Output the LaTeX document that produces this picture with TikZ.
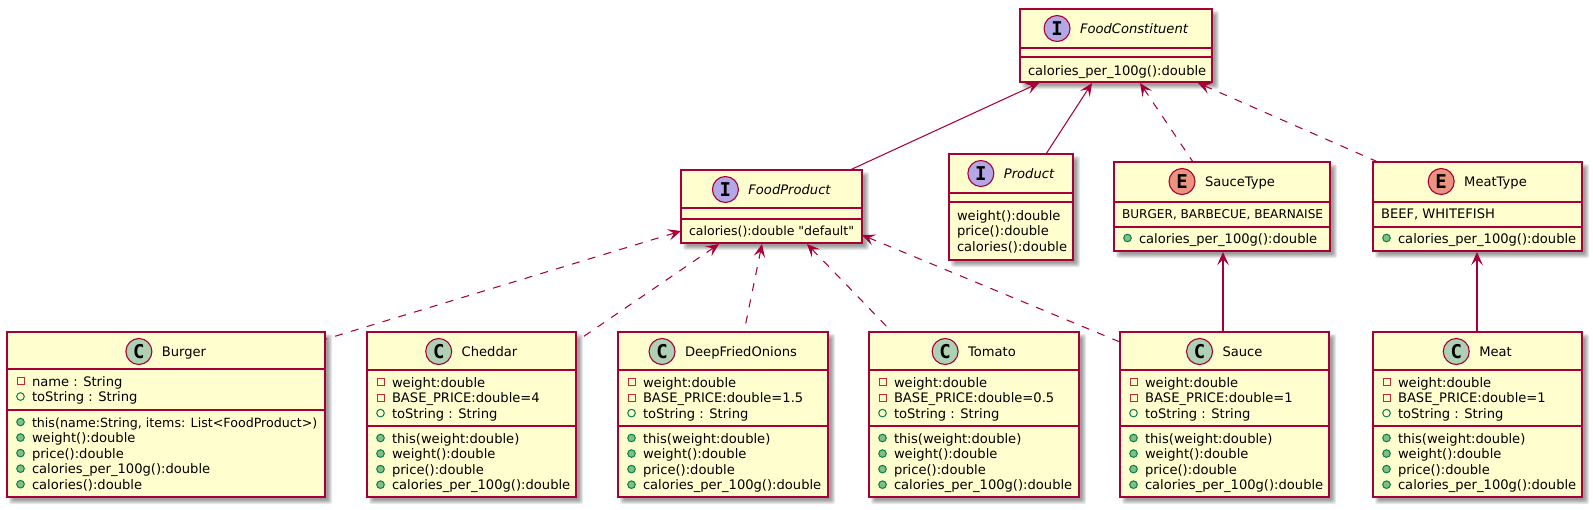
\documentclass[tikz,border=0pt]{standalone}
\usepackage{fontspec}
\newfontfamily\umlfont{DejaVu Sans}
\newfontfamily\spotfont{DejaVu Sans Mono}
\usetikzlibrary{arrows.meta,calc}
\definecolor{umlline}{HTML}{A80036}
\definecolor{umlfill}{HTML}{FEFECE}
\definecolor{spotc}{HTML}{ADD1B2}
\definecolor{spoti}{HTML}{B4A7E5}
\definecolor{spote}{HTML}{EB937F}
\definecolor{privred}{HTML}{C82930}
\definecolor{pubgreen}{HTML}{038048}
\definecolor{pubfill}{HTML}{84BE84}
\def\lettc{C}\def\letti{I}\def\lette{E}
\def\tfc{}\def\tfi{\itshape}\def\tfe{}
\newcommand\narrowtext[2]{{\fontsize{#1}{15}\selectfont #2}}
\tikzset{
  umlbox/.style={draw=umlline,fill=umlfill,line width=1.25pt,rectangle,inner sep=0pt,outer sep=0pt,anchor=north west},
  umlrule/.style={draw=umlline,line width=1.1pt},
  spotnode/.style={circle,draw=umlline,line width=1.1pt,minimum size=26pt,inner sep=0pt,font=\spotfont\bfseries\fontsize{19}{19}\selectfont},
  txt/.style={anchor=base west,inner sep=0pt,outer sep=0pt,font=\umlfont\fontsize{13.1}{15}\selectfont,text=black},
  assoc/.style={draw=umlline,line width=1.05pt,{Stealth[length=13pt,width=11.5pt,inset=5.5pt]}-},
  dep/.style={assoc,dash pattern=on 8pt off 8.5pt},
}
% icon + text rows: #1 prefix, #2 x of box left, #3 first baseline, #4 list of kind/text
\newcommand\umlrows[4]{%
  \foreach \k/\t [count=\i from 0] in {#4}{%
    \pgfmathsetmacro\yy{#3+15.55*\i}%
    \if\k n%
      \node[txt] (#1-\i) at ({#2+8},\yy) {\t};%
    \else
      \node[txt] (#1-\i) at ({#2+25},\yy) {\t};%
      \if\k p%
        \draw[privred,line width=1pt] ({#2+10},{\yy-8.5}) rectangle ({#2+17},{\yy-1.5});%
      \fi
      \if\k f%
        \draw[pubgreen,line width=1pt] ({#2+13.5},{\yy-5}) circle (3.8pt);%
      \fi
      \if\k m%
        \draw[pubgreen,fill=pubfill,line width=1pt] ({#2+13.5},{\yy-5}) circle (3.8pt);%
      \fi
    \fi
  }%
}
% name (x1,y1,x2,y2) [div1,div2] {kind} {title}
\def\umlclass#1(#2,#3,#4,#5)[#6,#7]#8#9{%
  \foreach \e in {3,2,1,0,-1}{%
    \fill[black,opacity=.09,rounded corners=2pt] ({#2+5-\e},{#3+5-\e}) rectangle ({#4+4+\e},{#5+4+\e});%
  }%
  \pgfmathsetmacro\bw{#4-#2}\pgfmathsetmacro\bh{#5-#3}%
  \node[umlbox,minimum width=\bw pt,minimum height=\bh pt] (#1) at (#2,#3) {};%
  \draw[umlrule] ($(#1.north west)+(0,#6-#3)$) -- ($(#1.north east)+(0,#6-#3)$);%
  \draw[umlrule] ($(#1.north west)+(0,#7-#3)$) -- ($(#1.north east)+(0,#7-#3)$);%
  \node[txt,anchor=base,font=\umlfont\fontsize{13.1}{15}\selectfont\csname tf#8\endcsname] (#1-title) at ({(#2+#4)/2+18},#3+24.5) {#9};%
  \node[spotnode,fill=spot#8] (#1-spot) at ($(#1-title.base west)+(-23,-5)$) {\csname lett#8\endcsname};%
}
\begin{document}
\begin{tikzpicture}[x=1pt,y=-1pt]
\useasboundingbox (0,0) rectangle (1593,509);

\umlclass{fc}(1020,9,1212,82)[48,57]{i}{FoodConstituent}
\umlrows{fc-m}{1020}{75}{n/{calories\_per\_100g():double}}

\umlclass{fp}(681,170,862,243)[208,219]{i}{FoodProduct}
\umlrows{fp-m}{681}{235}{n/{\narrowtext{12.55}{calories():double "default"}}}

\umlclass{prod}(949,154,1073,260)[193,202]{i}{Product}
\umlrows{prod-m}{949}{220}{n/{weight():double},n/{price():double},n/{calories():double}}

\umlclass{st}(1114,162,1330,251)[202,227]{e}{SauceType}
\umlrows{st-a}{1114}{218}{n/{\narrowtext{12.1}{BURGER, BARBECUE, BEARNAISE}}}
\umlrows{st-m}{1114}{243}{m/{calories\_per\_100g():double}}

\umlclass{mt}(1373,162,1582,251)[202,227]{e}{MeatType}
\umlrows{mt-a}{1373}{218}{n/{BEEF, WHITEFISH}}
\umlrows{mt-m}{1373}{243}{m/{calories\_per\_100g():double}}

\umlclass{burger}(7,332,325,497)[369,410]{c}{Burger}
\umlrows{burger-a}{7}{386}{p/{name : String},f/{toString : String}}
\umlrows{burger-m}{7}{427}{m/{\narrowtext{12.65}{this(name:String, items: List<FoodProduct>)}},m/{weight():double},m/{price():double},m/{calories\_per\_100g():double},m/{calories():double}}

\umlclass{cheddar}(367,332,576,497)[370,426]{c}{Cheddar}
\umlrows{cheddar-a}{367}{387}{p/{weight:double},p/{BASE\_PRICE:double=4},f/{toString : String}}
\umlrows{cheddar-m}{367}{443}{m/{this(weight:double)},m/{weight():double},m/{price():double},m/{calories\_per\_100g():double}}

\umlclass{onions}(618,332,828,497)[370,426]{c}{DeepFriedOnions}
\umlrows{onions-a}{618}{387}{p/{weight:double},p/{BASE\_PRICE:double=1.5},f/{toString : String}}
\umlrows{onions-m}{618}{443}{m/{this(weight:double)},m/{weight():double},m/{price():double},m/{calories\_per\_100g():double}}

\umlclass{tomato}(869,332,1079,497)[370,426]{c}{Tomato}
\umlrows{tomato-a}{869}{387}{p/{weight:double},p/{BASE\_PRICE:double=0.5},f/{toString : String}}
\umlrows{tomato-m}{869}{443}{m/{this(weight:double)},m/{weight():double},m/{price():double},m/{calories\_per\_100g():double}}

\umlclass{sauce}(1120,332,1329,497)[370,426]{c}{Sauce}
\umlrows{sauce-a}{1120}{387}{p/{weight:double},p/{BASE\_PRICE:double=1},f/{toString : String}}
\umlrows{sauce-m}{1120}{443}{m/{this(weight:double)},m/{weight():double},m/{price():double},m/{calories\_per\_100g():double}}

\umlclass{meat}(1373,332,1582,497)[370,426]{c}{Meat}
\umlrows{meat-a}{1373}{387}{p/{weight:double},p/{BASE\_PRICE:double=1},f/{toString : String}}
\umlrows{meat-m}{1373}{443}{m/{this(weight:double)},m/{weight():double},m/{price():double},m/{calories\_per\_100g():double}}

\draw[assoc] ($(fc.south west)+(19,1)$) -- ($(fp.north east)+(-12,0)$);
\draw[assoc] ($(fc.south west)+(72,1)$) -- ($(prod.north west)+(97,0)$);
\draw[dep] ($(fc.south west)+(120,1)$) -- ($(st.north west)+(79,0)$);
\draw[dep] ($(fc.south east)+(-14,1)$) -- ($(mt.north west)+(5,0)$);
\draw[dep] ($(fp.south west)+(0,-12)$) -- ($(burger.north east)+(1,7)$);
\draw[dep] ($(fp.south west)+(38,1)$) -- ($(cheddar.north east)+(1,9)$);
\draw[dep] ($(fp.south west)+(81,1)$) -- ($(onions.north west)+(126,0)$);
\draw[dep] ($(fp.south west)+(126,1)$) -- ($(tomato.north west)+(23,0)$);
\draw[dep] ($(fp.south east)+(0,-8)$) -- ($(sauce.north west)+(0,10)$);
\draw[assoc] ($(st.south west)+(109,1)$) -- ($(sauce.north west)+(103,0)$);
\draw[assoc] ($(mt.south west)+(104,1)$) -- ($(meat.north west)+(104,0)$);
\end{tikzpicture}
\end{document}
